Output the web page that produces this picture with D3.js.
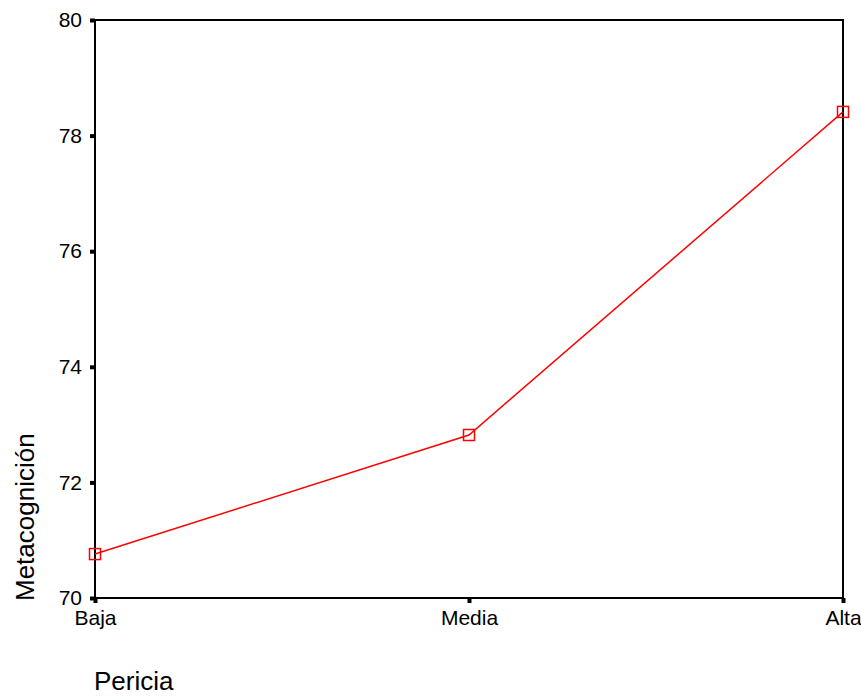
<!DOCTYPE html>
<html><head><meta charset="utf-8">
<script src="https://cdn.jsdelivr.net/npm/d3@7"></script>
<style>body{margin:0;background:#fff}svg{display:block;font-family:"Liberation Sans",Arial,sans-serif}</style>
</head><body><div id="chart"></div>
<script>
const categories = ["Baja", "Media", "Alta"];
const values = [70.76, 72.82, 78.41];
const yTicks = [70, 72, 74, 76, 78, 80];
const xTitle = "Pericia";
const yTitle = "Metacognición";

const W = 861, H = 696;
const m = {left: 95, right: 18, top: 20, bottom: 98};
const svg = d3.select("#chart").append("svg").attr("width", W).attr("height", H);

const x = d3.scalePoint().domain(categories).range([m.left, W - m.right]);
const y = d3.scaleLinear().domain([70, 80]).range([H - m.bottom, m.top]);

// frame
svg.append("rect").attr("x", m.left).attr("y", m.top)
  .attr("width", W - m.right - m.left).attr("height", H - m.bottom - m.top)
  .attr("fill", "none").attr("stroke", "#000").attr("stroke-width", 2);

const yAxis = svg.append("g").attr("transform", `translate(${m.left},0)`)
  .call(d3.axisLeft(y).tickValues(yTicks).tickSize(5).tickPadding(8));
yAxis.select(".domain").remove();
yAxis.selectAll(".tick line").attr("stroke-width", 4);
yAxis.selectAll("text").attr("font-size", 21).attr("fill", "#000")
  .attr("font-family", '"Liberation Sans",Arial,sans-serif');

const xAxis = svg.append("g").attr("transform", `translate(0,${H - m.bottom})`)
  .call(d3.axisBottom(x).tickSize(5).tickPadding(7));
xAxis.select(".domain").remove();
xAxis.selectAll(".tick line").attr("stroke-width", 4);
xAxis.selectAll("text").attr("font-size", 21).attr("fill", "#000")
  .attr("font-family", '"Liberation Sans",Arial,sans-serif');

const line = d3.line().x((d, i) => x(categories[i])).y(d => y(d));
svg.append("path").datum(values).attr("d", line)
  .attr("fill", "none").attr("stroke", "#ff0000").attr("stroke-width", 1.5);

svg.selectAll("rect.pt").data(values).enter().append("rect").attr("class", "pt")
  .attr("x", (d, i) => x(categories[i]) - 5.5).attr("y", d => y(d) - 5.5)
  .attr("width", 11).attr("height", 11)
  .attr("fill", "none").attr("stroke", "#ff0000").attr("stroke-width", 1.5);

svg.append("text").attr("x", 94).attr("y", 690).attr("font-size", 26)
  .attr("fill", "#000").text(xTitle);
svg.append("text").attr("transform", "translate(34,601) rotate(-90)")
  .attr("font-size", 26).attr("fill", "#000").text(yTitle);
</script></body></html>
